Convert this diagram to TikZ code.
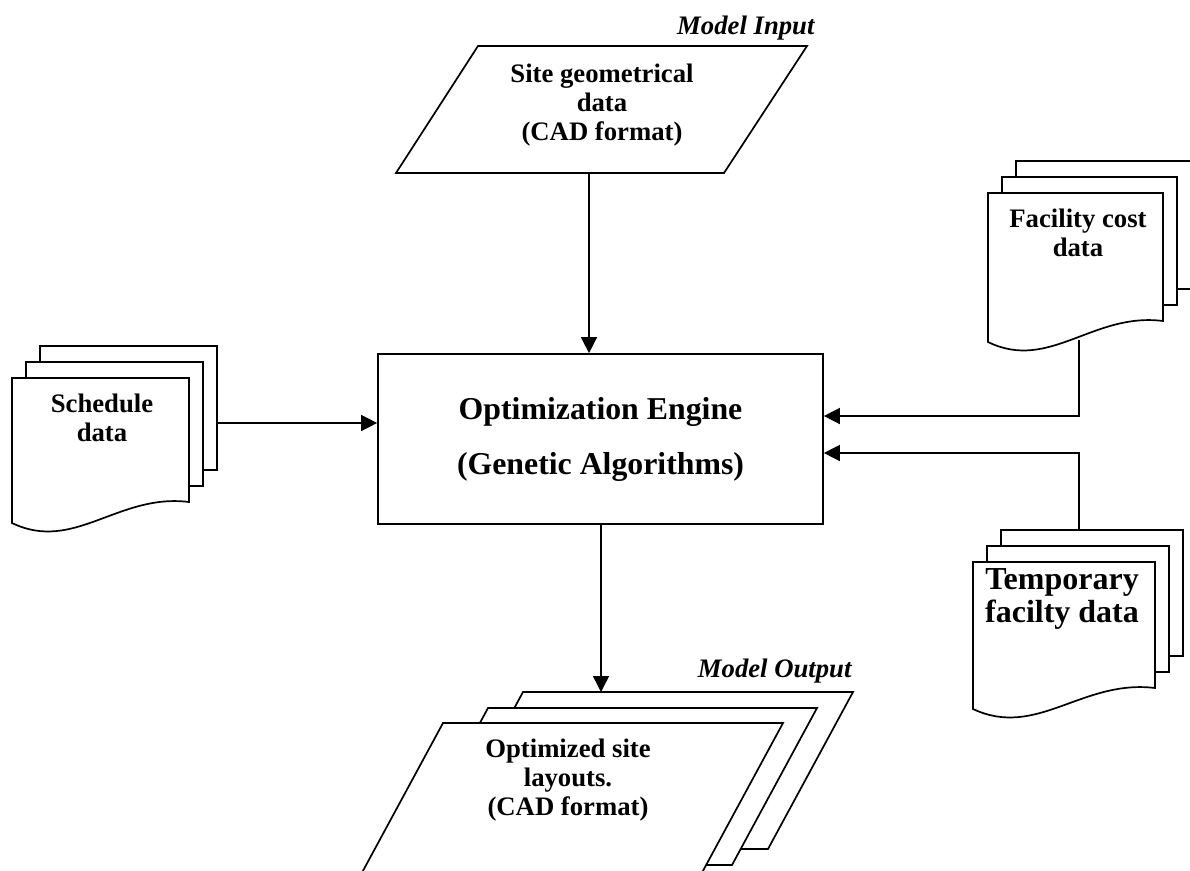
\documentclass[tikz,border=0pt]{standalone}
\usepackage{fontspec}
\setmainfont{Liberation Serif}
\usepackage{tikz}
\usetikzlibrary{arrows.meta,calc}
\tikzstyle{sheet}=[draw, fill=white, line width=1.7pt]
\tikzstyle{flow}=[line width=1.5pt, -{Triangle[length=16pt,width=16pt]}]
\tikzstyle{doctext}=[font=\fontsize{26.7}{29}\selectfont\bfseries, align=center]
\tikzstyle{tagtext}=[font=\fontsize{26.7}{29}\selectfont\bfseries\itshape]
\newcommand{\docStack}[5]{
	% #1 left, #2 top, #3 width, #4 height of front sheet, #5 name
	\foreach \k in {2,1}
		\draw[sheet] ({#1+14*\k},{#2-16*\k}) rectangle ({#1+14*\k+#3},{#2-16*\k+#4});
	\draw[sheet] (#1,#2) -- ({#1+#3},#2) -- ({#1+#3},{#2+#4})
		.. controls ({#1+0.6*#3},{#2+#4-9}) and ({#1+0.35*#3},{#2+#4+51}) .. (#1,{#2+#4+21}) -- cycle;
	\coordinate (#5) at ({#1+0.5*#3},{#2+0.5*#4});
}

\begin{document}
\begin{tikzpicture}[x=1pt,y=-1pt]
	\useasboundingbox (0,0) rectangle (1190,870);
	\clip (0,0) rectangle (1190,870);
	% engine
	\node[draw, line width=1.7pt, minimum width=445pt, minimum height=170pt, font=\fontsize{31.8}{55}\selectfont\bfseries, align=center] (engine) at (600.5,439) {Optimization Engine\\(Genetic Algorithms)};
	% input
	\draw[sheet] (478,46) -- (807,46) -- (724,173) -- (396,173) -- cycle;
	\node[doctext] (site) at (602,105) {Site geometrical\\data\\(CAD format)};
	\node[tagtext, anchor=base east] (intag) at (818,34) {Model Input};
	\coordinate (siteOut) at (589,173);
	% documents
	\docStack{12}{378}{177}{124}{sched}
	\node[doctext] (schedText) at (102,418) {Schedule\\data};
	\docStack{988}{193}{175}{128}{fac}
	\node[doctext] (facText) at (1078,233) {Facility cost\\data};
	\docStack{973}{562}{182}{126}{tmp}
	\node[doctext, font=\fontsize{32}{33}\selectfont\bfseries] (tmpText) at (1062,599) {Temporary\\facilty data};
	% output
	\draw[sheet] (523,692) -- (853,692) -- (768,849) -- (438,849) -- cycle;
	\draw[sheet] (488,708) -- (817,708) -- (732,865) -- (403,865) -- cycle;
	\draw[sheet] (443,723) -- (783,723) -- (698,880) -- (358,880) -- cycle;
	\node[doctext] (out) at (568,780) {Optimized site\\layouts.\\(CAD format)};
	\node[tagtext, anchor=base east] (outtag) at (855,677) {Model Output};
	\coordinate (outTop) at (601,692);
	% connectors
	\coordinate (schedOut) at (217,423);
	\coordinate (facOut) at (1079,340);
	\coordinate (facLvl) at (1079,416);
	\coordinate (tmpOut) at (1079,530);
	\coordinate (tmpLvl) at (1079,453);
	\draw[flow] (siteOut) -- (siteOut |- engine.north);
	\draw[flow] (schedOut) -- (schedOut -| engine.west);
	\draw[flow] (facOut) |- (engine.east |- facLvl);
	\draw[flow] (tmpOut) |- (engine.east |- tmpLvl);
	\draw[flow] (outTop |- engine.south) -- (outTop);
\end{tikzpicture}
\end{document}
